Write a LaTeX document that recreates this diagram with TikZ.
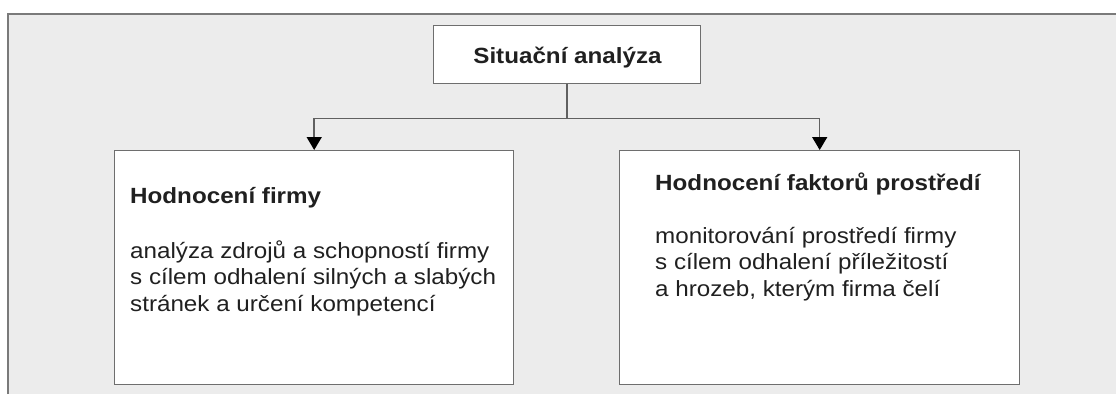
\documentclass[tikz,border=0pt]{standalone}
\usepackage{fontspec}
\usepackage{graphicx}
\setmainfont{Liberation Sans}
\usetikzlibrary{arrows.meta}
\definecolor{bg}{HTML}{ECECEC}
\definecolor{framec}{HTML}{7A7A7A}
\definecolor{boxc}{HTML}{6E6E6E}
\definecolor{linec}{HTML}{606060}
\definecolor{txt}{HTML}{202020}
\newcommand{\wide}[1]{\scalebox{1.1}[1]{#1}}
\newcommand{\bodytext}[1]{\wide{\parbox[t]{12cm}{\raggedright #1}}}
\tikzset{
  box/.style={draw=boxc, line width=1.4pt, fill=white, inner sep=0pt, anchor=north west},
  conn/.style={draw=linec, line width=1.5pt},
  arr/.style={conn, -{Triangle[width=15pt,length=13pt,color=black]}},
  ttl/.style={font=\fontsize{22}{26.5}\selectfont\bfseries, text=txt, inner sep=0pt, anchor=base west},
  body/.style={font=\fontsize{22}{26.5}\selectfont, text=txt, inner sep=0pt, anchor=base west}
}
\begin{document}
\begin{tikzpicture}[x=1pt,y=-1pt]
\useasboundingbox (0,0) rectangle (1116,394);
\fill[white] (0,0) rectangle (1116,394);
\fill[bg] (8,14) rectangle (1116,394);
\draw[framec, line width=1.8pt] (8,394) -- (8,14) -- (1116,14);
% top box
\node[box, minimum width=267pt, minimum height=58pt] (top) at (433,25) {};
\node[ttl, anchor=base] (toptxt) at (567.5,63) {\wide{Situační analýza}};
% left box
\node[box, minimum width=399pt, minimum height=234pt] (left) at (114,150) {};
\node[ttl] (lt) at (130,203) {\wide{Hodnocení firmy}};
\node[body] (lb) at (130,258) {\bodytext{analýza zdrojů a schopností firmy\\s cílem odhalení silných a slabých\\stránek a určení kompetencí}};
% right box
\node[box, minimum width=400pt, minimum height=234pt] (right) at (619,150) {};
\node[ttl] (rt) at (655,190) {\wide{Hodnocení faktorů prostředí}};
\node[body] (rb) at (655,243) {\bodytext{monitorování prostředí firmy\\s cílem odhalení příležitostí\\a hrozeb, kterým firma čelí}};
% connectors
\draw[conn] (top.south) -- ++(0,34) coordinate (j);
\draw[arr] (j) -| (left.north);
\draw[arr] (j) -| (right.north);
\end{tikzpicture}
\end{document}
